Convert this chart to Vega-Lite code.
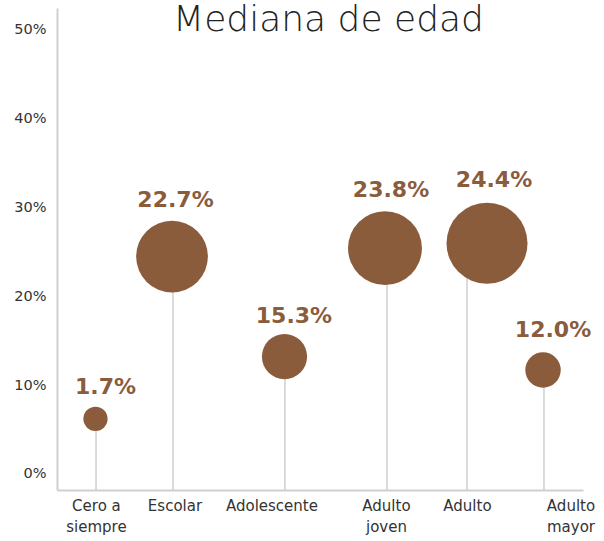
{
  "$schema": "https://vega.github.io/schema/vega-lite/v6.json",
  "width": 526,
  "height": 482,
  "autosize": {"type": "none"},
  "padding": {"left": 57, "top": 8, "right": 21, "bottom": 51},
  "background": "white",
  "config": {
    "view": {"stroke": null},
    "font": "DejaVu Sans"
  },
  "data": {
    "values": [
      {"grupo": ["Cero a", "siempre"], "valor": 0.017, "sx": 0.445, "cx": 0.439, "tx": 0.553, "lx": 0.45, "cy": 6.2, "ly": 9.0},
      {"grupo": ["Escolar"], "valor": 0.227, "sx": 1.323, "cx": 1.312, "tx": 1.352, "lx": 1.346, "cy": 24.45, "ly": 30.0},
      {"grupo": ["Adolescente"], "valor": 0.153, "sx": 2.60, "cx": 2.595, "tx": 2.703, "lx": 2.452, "cy": 13.2, "ly": 17.0},
      {"grupo": ["Adulto", "joven"], "valor": 0.238, "sx": 3.764, "cx": 3.741, "tx": 3.81, "lx": 3.758, "cy": 25.4, "ly": 31.1},
      {"grupo": ["Adulto"], "valor": 0.244, "sx": 4.677, "cx": 4.905, "tx": 4.985, "lx": 4.682, "cy": 25.95, "ly": 32.3},
      {"grupo": ["Adulto", "mayor"], "valor": 0.120, "sx": 5.555, "cx": 5.544, "tx": 5.658, "lx": 5.863, "cy": 11.7, "ly": 15.4}
    ]
  },
  "layer": [
    {
      "mark": {"type": "rule", "color": "#cfcfcf", "strokeWidth": 1.5},
      "encoding": {
        "x": {
          "field": "sx", "type": "quantitative",
          "scale": {"domain": [0, 6], "nice": false, "zero": false},
          "axis": {"title": null, "labels": false, "ticks": false, "grid": false, "domainColor": "#d0d0d0", "domainWidth": 2}
        },
        "y": {
          "field": "cy", "type": "quantitative",
          "scale": {"domain": [-1.8, 52.4], "nice": false, "zero": false},
          "axis": {
            "title": null, "grid": false, "ticks": false,
            "values": [0, 10, 20, 30, 40, 50],
            "labelExpr": "datum.value + '%'",
            "labelFont": "DejaVu Sans", "labelFontSize": 14.5, "labelColor": "#333333",
            "labelPadding": 11,
            "domainColor": "#d0d0d0", "domainWidth": 2
          }
        },
        "y2": {"datum": -1.8}
      }
    },
    {
      "mark": {"type": "circle", "color": "#8a5c3c", "opacity": 1},
      "encoding": {
        "x": {"field": "cx", "type": "quantitative"},
        "y": {"field": "cy", "type": "quantitative"},
        "size": {
          "field": "valor", "type": "quantitative",
          "scale": {"domain": [0.017, 0.120, 0.153, 0.227, 0.238, 0.244], "range": [590, 1257, 2043, 5153, 5463, 6561]},
          "legend": null
        }
      }
    },
    {
      "mark": {"type": "text", "color": "#8a5c3c", "font": "DejaVu Sans", "fontWeight": "bold", "fontSize": 22, "baseline": "alphabetic", "align": "center"},
      "encoding": {
        "x": {"field": "tx", "type": "quantitative"},
        "y": {"field": "ly", "type": "quantitative"},
        "text": {"field": "valor", "type": "quantitative", "format": ".1%"}
      }
    },
    {
      "mark": {"type": "text", "color": "#333333", "font": "DejaVu Sans", "fontSize": 15, "baseline": "top", "align": "center", "dy": 9, "lineHeight": 21},
      "encoding": {
        "x": {"field": "lx", "type": "quantitative"},
        "y": {"datum": -1.8},
        "text": {"field": "grupo"}
      }
    },
    {
      "data": {"values": [{"titulo": "Mediana de edad"}]},
      "mark": {"type": "text", "color": "#222222", "font": "DejaVu Sans", "fontSize": 36, "fontWeight": 300, "baseline": "alphabetic", "align": "center"},
      "encoding": {
        "x": {"datum": 3.097},
        "y": {"datum": 49.8},
        "text": {"field": "titulo"}
      }
    }
  ]
}
